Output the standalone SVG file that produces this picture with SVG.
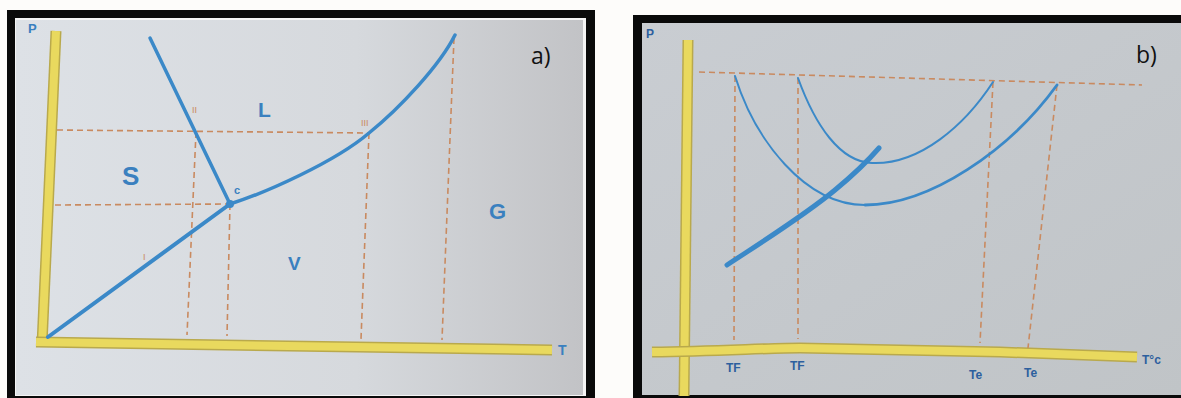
<svg xmlns="http://www.w3.org/2000/svg" width="1181" height="398" viewBox="0 0 1181 398">
  <defs>
    <linearGradient id="paperA" x1="0" y1="0" x2="1" y2="0">
      <stop offset="0" stop-color="#dde1e6"/>
      <stop offset="0.6" stop-color="#d6d9dd"/>
      <stop offset="1" stop-color="#c2c3c6"/>
    </linearGradient>
    <linearGradient id="paperB" x1="0" y1="0" x2="1" y2="1">
      <stop offset="0" stop-color="#c9cdd2"/>
      <stop offset="1" stop-color="#c0c4c7"/>
    </linearGradient>
    <style>
      .axisEdge { fill: none; stroke: #b9a94c; stroke-width: 11; stroke-linecap: butt; }
      .axis { fill: none; stroke: #e9d95e; stroke-width: 8; stroke-linecap: butt; }
      .ink { fill: none; stroke: #3b89c8; stroke-linecap: round; stroke-linejoin: round; }
      .dash { fill: none; stroke: #c98a60; stroke-width: 1.6; stroke-dasharray: 6 4; }
      .lbl { font-family: "Liberation Sans", Arial, sans-serif; font-weight: bold; fill: #3a80bf; }
      .lblb { font-family: "Liberation Sans", Arial, sans-serif; font-weight: bold; fill: #2d5f9e; font-size: 12px; }
      .rom { font-family: "Liberation Sans", Arial, sans-serif; fill: #c98a60; font-size: 9px; }
      .tag { font-family: "Open Sans", "Liberation Sans", sans-serif; fill: #111111; font-size: 23px; }
    </style>
  </defs>
  <rect x="0" y="0" width="1181" height="398" fill="#fdfcfa"/>

  <!-- Panel a -->
  <g id="panel-a">
    <rect x="7" y="10" width="588" height="390" fill="#0a0a0a"/>
    <rect x="15" y="18" width="571" height="378" fill="#f4f4f4"/>
    <rect x="16" y="20" width="567" height="375" fill="url(#paperA)"/>
  </g>

  <g id="axes-a">
    <path class="axisEdge" d="M56,31 L42,345"/>
    <path class="axis" d="M56,31 L42,345"/>
    <path class="axisEdge" d="M36,342 L552,350"/>
    <path class="axis" d="M36,342 L552,350"/>
    <text class="lbl" x="28" y="33" font-size="13">P</text>
    <text class="lbl" x="558" y="355" font-size="14">T</text>
  </g>

  <g id="guides-a">
    <path class="dash" d="M57,130 L369,133"/>
    <path class="dash" d="M55,205 L230,204"/>
    <path class="dash" d="M196,132 L187,335"/>
    <path class="dash" d="M230,204 L227,336"/>
    <path class="dash" d="M369,133 L361,339"/>
    <path class="dash" d="M454,38 L442,340"/>
  </g>

  <g id="curves-a">
    <path class="ink" stroke-width="4" d="M48,337 L230,204"/>
    <path class="ink" stroke-width="3.5" d="M150,38 L230,204"/>
    <path class="ink" stroke-width="3.5" d="M230,204 C265,193 335,162 369,133 C400,108 440,65 455,35"/>
    <circle cx="230" cy="204" r="4" fill="#3b89c8"/>
  </g>

  <g id="labels-a">
    <text class="lbl" x="258" y="117" font-size="21">L</text>
    <text class="lbl" x="122" y="185" font-size="26">S</text>
    <text class="lbl" x="489" y="219" font-size="22">G</text>
    <text class="lbl" x="288" y="270" font-size="19">V</text>
    <text class="lbl" x="234" y="194" font-size="11">c</text>
    <text class="rom" x="192" y="113">II</text>
    <text class="rom" x="361" y="126">III</text>
    <text class="rom" x="143" y="260">I</text>
    <text class="tag" x="531" y="64">a)</text>
  </g>

  <!-- Panel b -->
  <g id="panel-b">
    <rect x="633" y="15" width="548" height="385" fill="#0a0a0a"/>
    <rect x="642" y="23" width="539" height="372" fill="url(#paperB)"/>
  </g>

  <g id="axes-b">
    <path class="axisEdge" d="M688,40 L684,396"/>
    <path class="axis" d="M688,40 L684,396"/>
    <path class="axisEdge" stroke-width="13" d="M652,352 C720,351 770,348 800,348 C880,349 950,351 1000,352 L1137,357"/>
    <path class="axis" stroke-width="10" d="M652,352 C720,351 770,348 800,348 C880,349 950,351 1000,352 L1137,357"/>
    <text class="lblb" x="646" y="38" font-size="13">P</text>
  </g>

  <g id="guides-b">
    <path class="dash" d="M699,72 L1142,85"/>
    <path class="dash" d="M735,76 L734,340"/>
    <path class="dash" d="M798,78 L798,339"/>
    <path class="dash" d="M993,82 L980,343"/>
    <path class="dash" d="M1057,85 L1028,348"/>
  </g>

  <g id="curves-b">
    <path class="ink" stroke-width="2" d="M735,76 C755,140 805,205 865,205"/>
    <path class="ink" stroke-width="2.8" d="M865,205 C930,205 1010,150 1057,85"/>
    <path class="ink" stroke-width="2" d="M798,78 C815,125 840,162 872,163 C920,165 965,125 993,82"/>
    <path class="ink" stroke-width="5" d="M727,265 C765,240 805,215 835,190 C852,176 866,163 879,148"/>
  </g>

  <g id="labels-b">
    <text class="lblb" x="726" y="372">TF</text>
    <text class="lblb" x="790" y="370">TF</text>
    <text class="lblb" x="969" y="379">Te</text>
    <text class="lblb" x="1024" y="377">Te</text>
    <text class="lblb" x="1142" y="364">T°c</text>
    <text class="tag" x="1136" y="63">b)</text>
  </g>
</svg>
